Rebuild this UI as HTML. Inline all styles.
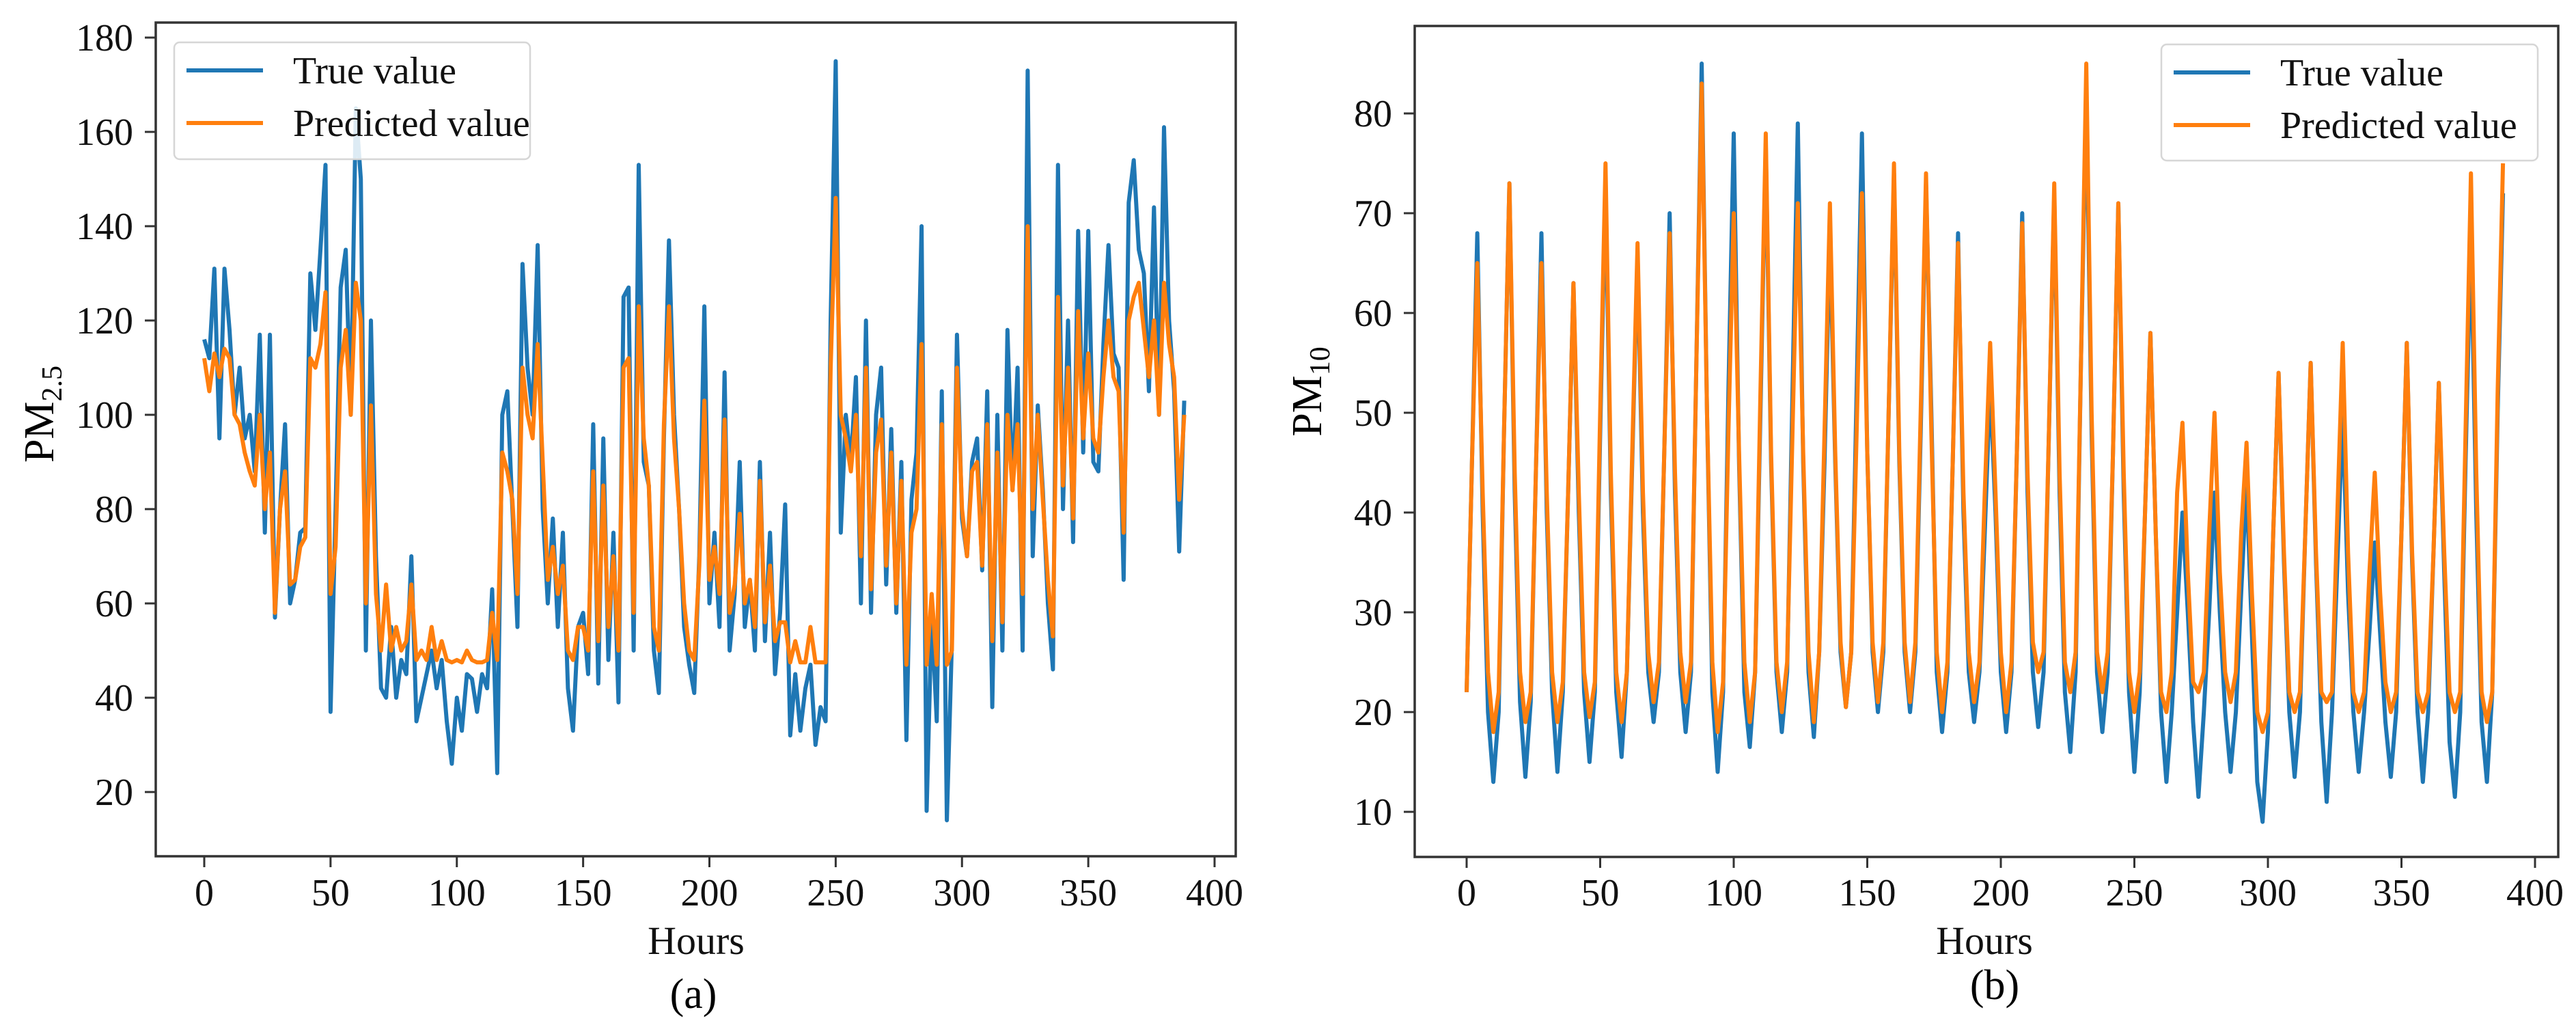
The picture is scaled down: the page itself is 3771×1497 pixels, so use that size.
<!DOCTYPE html>
<html><head><meta charset="utf-8"><style>
html,body{margin:0;padding:0;background:#fff;}
svg{display:block;font-family:"Liberation Serif",serif;}
</style></head><body>
<svg id="fig" width="3771" height="1497" viewBox="0 0 3771 1497" xmlns="http://www.w3.org/2000/svg">
<rect x="0" y="0" width="3771" height="1497" fill="#fff"/>
<g id="chartA"></g>
<g id="chartB"></g>
</svg>
<script>
// hours sampled every 2 hours: 0,2,...,388
const hourStep = 2;
const pm25True = [116,112,131,95,131,118,100,110,95,100,88,
117,75,117,57,80,98,60,65,75,76,
130,118,135,153,37,80,127,135,100,165,
150,50,120,70,42,40,55,40,48,45,
70,35,40,45,50,42,48,35,26,40,
33,45,44,37,45,42,63,24,100,105,
80,55,132,110,100,136,80,60,78,55,
75,42,33,55,58,45,98,43,95,48,
75,39,125,127,50,153,90,85,50,41,
95,137,100,80,55,47,41,70,123,60,
75,55,109,50,62,90,55,65,50,90,
52,75,45,58,81,32,45,33,42,47,
30,38,35,120,175,75,100,90,108,60,
120,58,100,110,64,97,58,90,31,82,
92,140,16,58,35,105,14,52,117,78,
70,90,95,67,105,38,100,50,118,84,
110,50,173,70,102,84,60,46,153,80,
120,73,139,92,139,90,88,115,136,113,
110,65,145,154,135,130,105,144,100,161,
120,105,71,103];
const pm25Pred = [112,105,113,108,114,112,100,98,92,88,85,
100,80,92,58,80,88,64,65,72,74,
112,110,115,126,62,72,110,118,100,128,
120,60,102,62,50,64,50,55,50,52,
64,48,50,48,55,48,52,48,47.5,48,
47.5,50,48,47.5,47.5,48,58,48,92,88,
82,62,110,100,95,115,90,65,72,62,
68,50,48,55,55,50,88,52,85,55,
70,50,110,112,58,123,95,85,55,50,
98,123,95,80,60,50,48,68,103,65,
72,62,99,58,64,79,60,65,55,86,
56,68,52,56,56,47.5,52,47.5,47.5,55,
47.5,47.5,47.5,110,146,100,95,88,100,70,
110,63,92,99,68,92,60,86,47,75,
80,115,47,62,47,98,47,50,110,80,
70,88,90,68,98,52,92,56,100,84,
98,62,140,80,100,82,65,53,125,85,
110,78,122,95,113,95,92,108,120,108,
105,75,120,125,128,118,108,120,100,128,
115,108,82,100];
const pm10True = [22,45,68,40,20,13, 20,48,73,42,21,13.5, 21,45,68,40,22,14, 22,42,63,40,22,15,
22,48,73,42,22,15.5, 24,45,66,40,24,19, 24,46,70,42,24,18, 24,55,85,50,22,14,
22,52,78,45,22,16.5, 24,50,77,45,24,18, 24,52,79,45,24,17.5, 26,45,68,45,26,20.5,
26,52,78,46,26,20, 26,50,74,45,26,20, 26,48,73,50,24,18, 24,45,68,40,24,19,
24,38,53,40,24,18, 24,46,70,42,24,18.5, 24,48,72,42,22,16, 24,55,82,48,24,18,
24,46,71,42,22,14, 22,40,58,38,20,13, 20,30,40,30,19,11.5, 20,30,42,30,20,14,
20,32,43,28,13,9, 18,38,54,35,20,13.5, 20,38,55,35,19,11, 20,35,50,32,20,14,
20,28,37,28,19,13.5, 20,38,57,35,20,13, 20,36,53,34,17,11.5, 20,45,68,40,19,13,
22,50,72];
const pm10Pred = [22,45,65,42,24,18, 22,48,73,44,24,19, 22,45,65,42,24,19, 23,42,63,42,24,19.5,
23,50,75,44,24,19, 24,46,67,42,26,21, 25,46,68,44,26,21, 25,55,83,50,25,18,
23,48,70,46,25,19, 24,52,78,46,25,20, 25,48,71,46,26,19, 26,48,71,46,27,20.5,
26,48,72,46,27,21, 27,50,75,46,27,21, 27,50,74,48,26,20, 25,45,67,42,26,21,
25,42,57,42,26,20, 25,46,69,44,27,24, 26,48,73,44,25,22, 26,55,85,50,26,22,
26,46,71,44,24,20, 24,40,58,38,22,20, 24,42,49,34,23,22, 24,38,50,34,24,21,
24,38,47,32,20,18, 20,38,54,36,22,20, 22,38,55,36,22,21, 22,40,57,36,22,20,
22,34,44,32,23,20, 22,38,57,36,22,20, 22,36,53,36,22,20, 22,48,74,44,22,19,
22,52,75];
const xTicks = [0,50,100,150,200,250,300,350,400];
const yTicksA = [20,40,60,80,100,120,140,160,180];
const yTicksB = [10,20,30,40,50,60,70,80];

const NS = "http://www.w3.org/2000/svg";
function mk(parent, tag, attrs, text){
  const e = document.createElementNS(NS, tag);
  for (const k in attrs) e.setAttribute(k, attrs[k]);
  if (text !== undefined) e.textContent = text;
  parent.appendChild(e);
  return e;
}

function drawChart(g, cfg){
  const X = h => cfg.x0 + h * cfg.xs;
  const Y = v => cfg.y0 - (v - cfg.v0) * cfg.ys;
  const series = [[cfg.trueV, "#1f77b4", "true-value-line"], [cfg.predV, "#ff7f0e", "predicted-value-line"]];
  series.forEach(s => {
    const pts = s[0].map((v, i) => X(i * hourStep).toFixed(1) + "," + Y(v).toFixed(1)).join(" ");
    const pl = mk(g, "polyline", {points: pts, fill: "none", stroke: s[1], "stroke-width": 6, "stroke-linejoin": "round"});
    
    
  });
  const fr = mk(g, "rect", {x: cfg.fl, y: cfg.ft, width: cfg.fr - cfg.fl, height: cfg.fb - cfg.ft, fill: "none", stroke: "#333", "stroke-width": 3.5});
  
  
  xTicks.forEach(t => {
    const x = X(t);
    const tk = mk(g, "line", {x1: x, y1: cfg.fb, x2: x, y2: cfg.fb + 16, stroke: "#333", "stroke-width": 3});
    
    
    const lb = mk(g, "text", {x: x, y: 1325, "font-size": 56, "text-anchor": "middle", fill: "#111"}, String(t));
    
    
  });
  cfg.yTicks.forEach(t => {
    const y = Y(t);
    const tk = mk(g, "line", {x1: cfg.fl - 16, y1: y, x2: cfg.fl, y2: y, stroke: "#333", "stroke-width": 3});
    
    
    const lb = mk(g, "text", {x: cfg.fl - 33, y: y + 19, "font-size": 56, "text-anchor": "end", fill: "#111"}, String(t));
    
    
  });
  const xt = mk(g, "text", {x: cfg.hoursX, y: 1396, "font-size": 58, "text-anchor": "middle", fill: "#111"}, "Hours");
  
  
  const cap = mk(g, "text", {x: cfg.capX, y: cfg.capY, "font-size": 62, "text-anchor": "middle", fill: "#000"}, cfg.cap);
  
  
  const yt = mk(g, "text", {x: 0, y: 0, "font-size": 62, "text-anchor": "middle", fill: "#000", transform: "translate(" + cfg.ylX + "," + cfg.ylY + ") rotate(-90)"});
  
  
  mk(yt, "tspan", {}, "PM");
  mk(yt, "tspan", {"font-size": 42, dy: 12}, cfg.sub);
  const L = cfg.leg;
  const lg = mk(g, "g", {});
  
  
  mk(lg, "rect", {x: L.x, y: L.y, width: L.w, height: L.h, rx: 8, fill: "#fff", "fill-opacity": 0.85, stroke: "#d6d6d6", "stroke-width": 2.5});
  [["True value", "#1f77b4", L.y + 41, "legend-entry-true"], ["Predicted value", "#ff7f0e", L.y + 118, "legend-entry-predicted"]].forEach(e => {
    const eg = mk(lg, "g", {});
    
    
    mk(eg, "line", {x1: L.x + 18, y1: e[2], x2: L.x + 130, y2: e[2], stroke: e[1], "stroke-width": 6});
    mk(eg, "text", {x: L.x + 174, y: e[2] + 19, "font-size": 56, fill: "#111"}, e[0]);
  });
}

drawChart(document.getElementById("chartA"), {
  trueV: pm25True, predV: pm25Pred, yTicks: yTicksA,
  x0: 299, xs: 3.6975, y0: 55, v0: 180, ys: 6.9,
  fl: 228, fr: 1809, ft: 33, fb: 1253,
  hoursX: 1019, capX: 1015, capY: 1475, cap: "(a)",
  ylX: 78, ylY: 606, sub: "2.5",
  leg: {x: 255, y: 62, w: 521, h: 171}
});
drawChart(document.getElementById("chartB"), {
  trueV: pm10True, predV: pm10Pred, yTicks: yTicksB,
  x0: 2147, xs: 3.91, y0: 166, v0: 80, ys: 14.6,
  fl: 2071, fr: 3745, ft: 38, fb: 1254,
  hoursX: 2905, capX: 2920, capY: 1462, cap: "(b)",
  ylX: 1934, ylY: 573, sub: "10",
  leg: {x: 3164, y: 65, w: 551, h: 170}
});
</script>
</body></html>
